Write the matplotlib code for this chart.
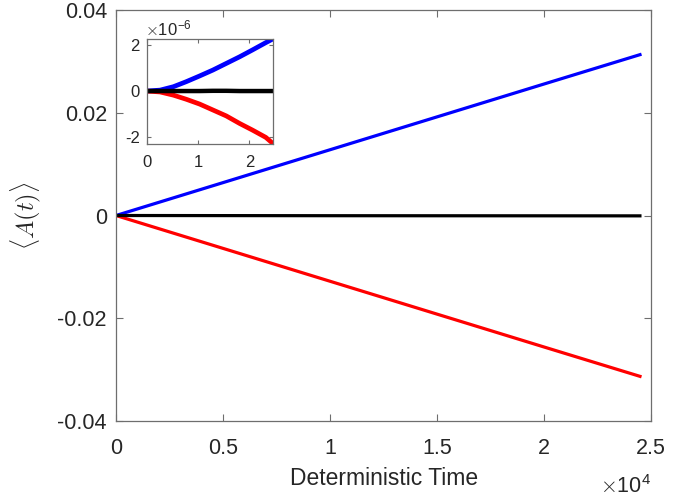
import matplotlib.pyplot as plt
import numpy as np

plt.rcParams['font.family'] = ['Liberation Sans', 'DejaVu Sans']
plt.rcParams['mathtext.fontset'] = 'cm'

# main panel, time in units of 1e4
t = [0, 0.5, 1.0, 1.5, 2.0, 2.455]
a_blue = [0, 0.0064, 0.0128, 0.0192, 0.0256, 0.0314]
a_red = [0, -0.0064, -0.0128, -0.0192, -0.0256, -0.0314]
a_black = [0, -0.00002, -0.00004, -0.00005, -0.00006, -0.00007]

# inset, time in units of 1e4, values in units of 1e-6
ti = [0, 0.26, 0.52, 0.77, 1.03, 1.29, 1.55, 1.81, 2.06, 2.32, 2.455]
in_blue = [0, 0.04, 0.19, 0.41, 0.66, 0.92, 1.21, 1.5, 1.8, 2.12, 2.28]
in_red = [0, -0.04, -0.18, -0.36, -0.57, -0.83, -1.09, -1.42, -1.71, -2.03, -2.29]
in_black = [0, 0, 0, 0, 0, 0.01, 0.01, 0, 0, 0, 0]

axcol = '#6e6e6e'
txtcol = '#262626'

fig = plt.figure(figsize=(6.95, 5), dpi=100)
ax = fig.add_axes([0.1669, 0.158, 0.77, 0.822])
ax.plot(t, a_blue, color='#0000ff', lw=2.3, solid_capstyle='butt')
ax.plot(t, a_red, color='#ff0000', lw=2.3, solid_capstyle='butt')
ax.plot(t, a_black, color='black', lw=2.3, solid_capstyle='butt')
ax.set_xlim(0, 2.5)
ax.set_ylim(-0.04, 0.04)
ax.set_xticks([0, 0.5, 1, 1.5, 2, 2.5])
ax.set_xticklabels(['0', '0.5', '1', '1.5', '2', '2.5'])
ax.set_yticks([-0.04, -0.02, 0, 0.02, 0.04])
ax.set_yticklabels(['-0.04', '-0.02', '0', '0.02', '0.04'])
ax.tick_params(direction='in', top=True, right=True, labelsize=15.5,
               colors=axcol, labelcolor=txtcol, length=5, width=0.8)
ax.tick_params(axis='x', pad=12)
ax.tick_params(axis='y', pad=6.5)
for s in ax.spines.values():
    s.set_color(axcol)
    s.set_linewidth(0.9)
ax.set_xlabel('Deterministic Time', fontsize=16.5, color=txtcol)
ax.xaxis.set_label_coords(0.5, -0.113)
ax.xaxis.label.set_va('top')
ax.set_ylabel(r'$\langle A(t)\rangle$', fontsize=17.5, color=txtcol)
ax.yaxis.set_label_coords(-0.136, 0.5)
ax.text(1.0, -0.175, r'$\times$10$^{\mathregular{4}}$', transform=ax.transAxes,
        ha='right', va='baseline', fontsize=15.5, color=txtcol)

ins = fig.add_axes([0.2111, 0.712, 0.1813, 0.21])
ins.plot(ti, in_blue, color='#0000ff', lw=3.4)
ins.plot(ti, in_red, color='#ff0000', lw=3.4)
ins.plot(ti, in_black, color='black', lw=3.2)
ins.set_xlim(0, 2.455)
ins.set_ylim(-2.32, 2.28)
ins.set_xticks([0, 1, 2])
ins.set_yticks([-2, 0, 2])
ins.set_yticklabels(['-2', '0', '2'])
ins.tick_params(direction='in', top=True, right=True, labelsize=12,
                colors=axcol, labelcolor=txtcol, length=3, width=0.8)
ins.tick_params(axis='x', pad=8)
ins.tick_params(axis='y', pad=5)
for s in ins.spines.values():
    s.set_color(axcol)
    s.set_linewidth(0.9)
ins.text(-0.01, 1.01, r'$\times$10$^{\mathregular{-6}}$', transform=ins.transAxes,
         ha='left', va='bottom', fontsize=12, color=txtcol)

fig.savefig('out.png', dpi=100)
